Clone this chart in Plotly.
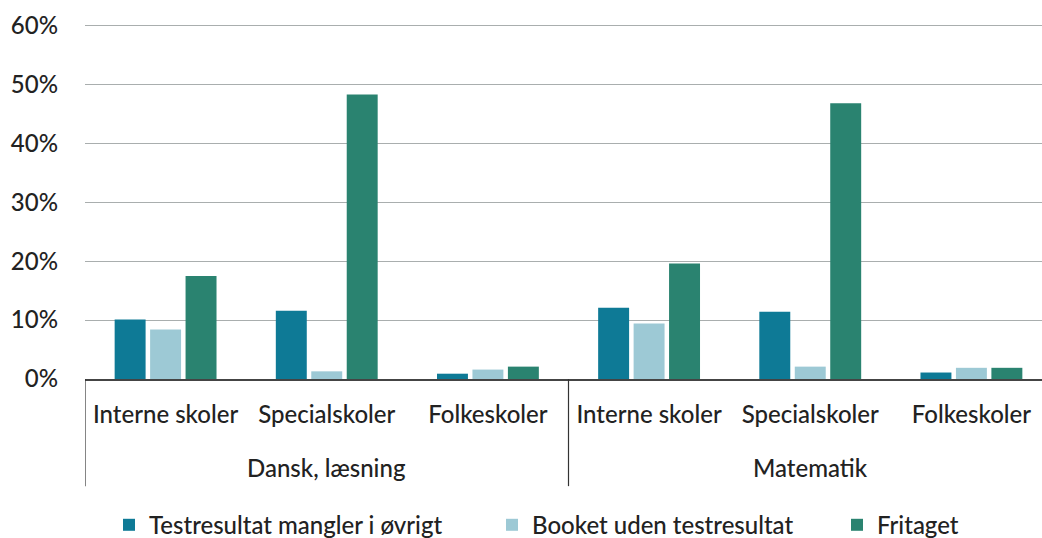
import plotly.graph_objects as go

group_names = ["Dansk, læsning", "Matematik"]
schools = ["Interne skoler", "Specialskoler", "Folkeskoler", "Interne skoler", "Specialskoler", "Folkeskoler"]

series_names = ["Testresultat mangler i øvrigt", "Booket uden testresultat", "Fritaget"]
mangler = [10.1, 11.6, 0.9, 12.1, 11.4, 1.1]
booket = [8.4, 1.3, 1.6, 9.4, 2.1, 1.9]
fritaget = [17.5, 48.3, 2.1, 19.6, 46.8, 1.9]
colors = ["#0E7A96", "#9DC9D5", "#2A8370"]

y_ticks = [0, 10, 20, 30, 40, 50, 60]
y_tick_text = ["0%", "10%", "20%", "30%", "40%", "50%", "60%"]

xpos = list(range(len(schools)))
n_per_group = 3

W, H = 1042, 538
PLOT_LEFT, PLOT_BOTTOM = 85, 379
Y_TOP_PIX = 26           # pixel of the 60% line
Y_MAX = 60.6             # a bit of head room so the 60% gridline is drawn
PLOT_TOP = PLOT_BOTTOM - (PLOT_BOTTOM - Y_TOP_PIX) * Y_MAX / 60
pw = W - PLOT_LEFT
ph = PLOT_BOTTOM - PLOT_TOP
def py(pix):
    return (PLOT_BOTTOM - pix) / ph
def px(pix):
    return (pix - PLOT_LEFT) / pw

FS = 24
FONT = dict(family="Lato", size=FS, color="#222222", weight=500)

legend_ids = ["legend", "legend2", "legend3"]
legend_text_x = [150, 533, 878]

fig = go.Figure()
for name, vals, col, lid in zip(series_names, [mangler, booket, fritaget], colors, legend_ids):
    fig.add_trace(go.Bar(x=xpos, y=vals, name=name, marker_color=col, marker_line_width=0,
                         legend=lid))

for gi, g in enumerate(group_names):
    center = gi * n_per_group + (n_per_group - 1) / 2
    fig.add_annotation(x=center, y=py(467), xref="x", yref="paper", text=g,
                       showarrow=False, yanchor="middle", font=FONT)
for gi in range(len(group_names) + 1):
    xd = gi * n_per_group - 0.5
    fig.add_shape(type="line", xref="x", yref="paper", x0=xd, x1=xd, y0=0, y1=py(486),
                  line=dict(color="#333333", width=1.2))

legend_common = dict(orientation="h", xanchor="left", y=py(525), yanchor="middle",
                     font=FONT, itemwidth=30, bgcolor="rgba(0,0,0,0)")
layout_legends = {}
for lid, tx in zip(legend_ids, legend_text_x):
    layout_legends[lid] = dict(x=px(tx - 41), **legend_common)

fig.update_layout(
    width=W, height=H,
    margin=dict(l=PLOT_LEFT, r=0, t=PLOT_TOP, b=H - PLOT_BOTTOM, autoexpand=False),
    plot_bgcolor="white", paper_bgcolor="white",
    font=FONT,
    barmode="group", bargap=0.34, bargroupgap=0.127,
    showlegend=True,
    **layout_legends,
)
fig.update_yaxes(range=[0, Y_MAX], tickvals=y_ticks, ticktext=y_tick_text,
                 showgrid=True, gridcolor="#A9AEAE", gridwidth=1, zeroline=False, showline=False,
                 ticks="", ticklabelstandoff=26, automargin=False, tickfont=FONT)
fig.update_xaxes(range=[-0.5, 5.5 - 10 / 161.2], tickvals=xpos, ticktext=schools,
                 showline=True, linecolor="#444444", linewidth=1.5, showgrid=False,
                 ticks="", ticklabelstandoff=13, automargin=False, tickfont=FONT)
fig.write_html("out.html", config={"displayModeBar": False},
               post_script="document.body.style.margin='0';")
